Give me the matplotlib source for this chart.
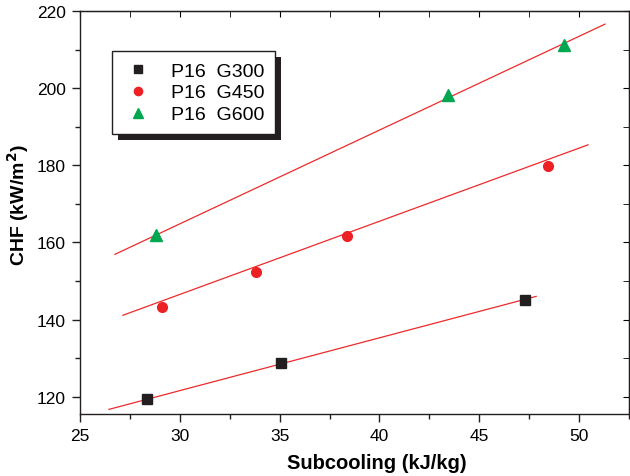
import matplotlib
matplotlib.use("Agg")
import matplotlib.pyplot as plt
from matplotlib.ticker import MultipleLocator
from matplotlib.patches import Rectangle

plt.rcParams['font.family'] = ['Liberation Sans', 'DejaVu Sans']

# measured points (subcooling kJ/kg, CHF kW/m2)
g300_x = [28.35, 35.05, 47.3]
g300_y = [119.3, 128.7, 145.0]
g450_x = [29.1, 33.8, 38.35, 48.45]
g450_y = [143.2, 152.2, 161.6, 179.7]
g600_x = [28.8, 43.45, 49.25]
g600_y = [161.8, 198.3, 211.3]

# fitted lines, end points
fit300_x = [26.45, 47.85]
fit300_y = [116.7, 146.0]
fit450_x = [27.15, 50.45]
fit450_y = [141.1, 185.3]
fit600_x = [26.75, 51.3]
fit600_y = [156.9, 216.6]

labels = ['P16  G300', 'P16  G450', 'P16  G600']

fig = plt.figure(figsize=(6.3, 4.77), dpi=100)
ax = fig.add_axes([80/630, 62/477, 549/630, 403/477])

line_c = '#ee2a2a'
for fx, fy in [(fit300_x, fit300_y), (fit450_x, fit450_y), (fit600_x, fit600_y)]:
    ax.plot(fx, fy, color=line_c, lw=0.9, zorder=2)

ax.plot(g300_x, g300_y, 's', color='#231f20', ms=6.5, ls='none', label=labels[0], zorder=3)
ax.plot(g450_x, g450_y, 'o', color='#ed2024', ms=7, ls='none', label=labels[1], zorder=3)
ax.plot(g600_x, g600_y, '^', color='#00a650', ms=8, ls='none', label=labels[2], zorder=3)

ax.set_xlim(25, 52.5)
ax.set_ylim(115.5, 220)
ax.xaxis.set_major_locator(MultipleLocator(5))
ax.xaxis.set_minor_locator(MultipleLocator(2.5))
ax.yaxis.set_major_locator(MultipleLocator(20))
ax.yaxis.set_minor_locator(MultipleLocator(10))

ax.tick_params(which='both', direction='out', labelsize=12.5, width=1, color='#231f20')
ax.tick_params(which='major', length=6, pad=4)
ax.tick_params(which='minor', length=3.5)
for sp in ax.spines.values():
    sp.set_linewidth(1)
    sp.set_color('#231f20')

# inward ticks on the top and right side
top = ax.secondary_xaxis('top')
top.xaxis.set_major_locator(MultipleLocator(5))
top.xaxis.set_minor_locator(MultipleLocator(2.5))
top.tick_params(which='both', direction='in', length=4, labeltop=False)
right = ax.secondary_yaxis('right')
right.yaxis.set_major_locator(MultipleLocator(20))
right.yaxis.set_minor_locator(MultipleLocator(10))
right.tick_params(which='both', direction='in', length=4, labelright=False)

ax.set_xlabel('Subcooling (kJ/kg)', fontsize=14.5, fontweight='bold')
ax.set_ylabel('CHF (kW/m$^\\mathbf{2}$)', fontsize=14, fontweight='bold')
ax.xaxis.set_label_coords(0.541, -0.098)
ax.yaxis.set_label_coords(-0.089, 0.52)

leg = ax.legend(loc='upper left', bbox_to_anchor=(0.058, 0.90), fontsize=14,
                frameon=True, fancybox=False, shadow=False, markerscale=0.85,
                framealpha=1, borderpad=0.55, handletextpad=0.9, labelspacing=0.22,
                handlelength=1.6, borderaxespad=0)
leg.get_frame().set_edgecolor('#231f20')
leg.get_frame().set_linewidth(1)
leg.set_zorder(6)

# solid black drop shadow behind the legend box
fig.canvas.draw()
bb = leg.get_window_extent().transformed(ax.transAxes.inverted())
dx, dy = 6 / 549, 6 / 403
ax.add_patch(Rectangle((bb.x0 + dx, bb.y0 - dy), bb.width, bb.height,
                       transform=ax.transAxes, facecolor='#231f20', edgecolor='none',
                       zorder=5))

fig.savefig('out.png', dpi=100)
